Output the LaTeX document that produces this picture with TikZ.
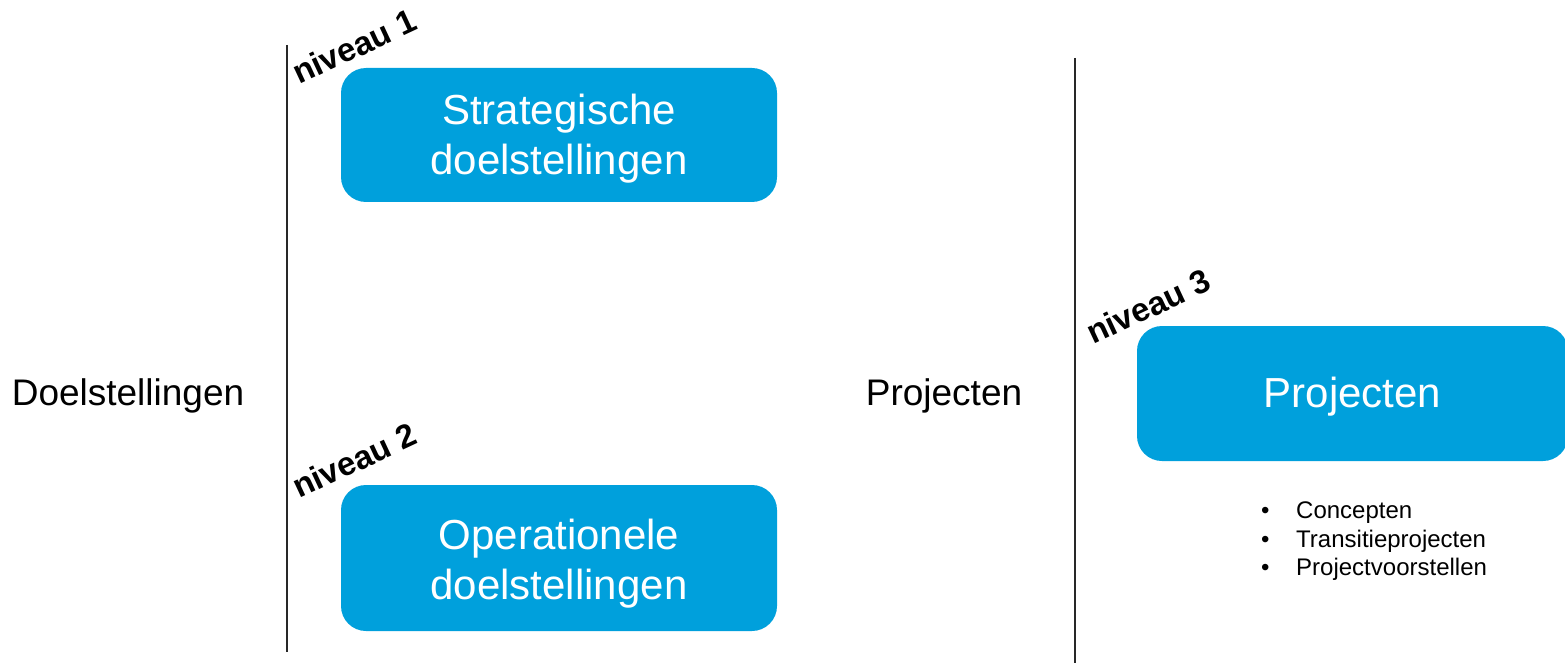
\documentclass[tikz,border=0pt]{standalone}
\usepackage{fontspec}
\setmainfont{Liberation Sans}
\definecolor{boxblue}{RGB}{0,160,220}
\definecolor{rulegray}{RGB}{40,40,40}
\newcommand{\twoline}[3]{\raisebox{-#1}[\height][\depth]{\begin{tabular}{@{}c@{}}#2\\#3\end{tabular}}}
\begin{document}
\begin{tikzpicture}[x=1pt,y=-1pt,
  box/.style={fill=boxblue, draw=none, rounded corners=25pt, text=white, align=center,
    font=\fontsize{42}{50}\selectfont, inner sep=0pt},
  lvl/.style={anchor=base west, inner sep=0pt, rotate=25, font=\fontsize{33}{38}\selectfont\bfseries},
  side/.style={anchor=base, inner sep=0pt, font=\fontsize{37}{44}\selectfont},
  bul/.style={anchor=base west, inner sep=0pt, font=\fontsize{24}{28}\selectfont},
  vline/.style={draw=rulegray, line width=2.5pt}]
\useasboundingbox (0,0) rectangle (1565,663);
\clip (0,0) rectangle (1565,663);
% vertical rules
\coordinate (l1t) at (287,45);
\coordinate (l1b) at (287,652);
\coordinate (l2t) at (1075,58);
\coordinate (l2b) at (1075,663);
\draw[vline] (l1t) -- (l1b);
\draw[vline] (l2t) -- (l2b);
% side labels
\node[side] (doel) at (128,405) {Doelstellingen};
\node[side] (proj) at (944,405) {Projecten};
% boxes
\node[box, minimum width=436pt, minimum height=134pt] (strat) at (559,135) {\twoline{5pt}{Strategische}{doelstellingen}};
\node[box, minimum width=436pt, minimum height=146pt] (oper) at (559,558) {\twoline{6pt}{Operationele}{doelstellingen}};
\node[box, minimum width=431pt, minimum height=135pt] (projbox) at (1352.5,393.5) {\raisebox{-3pt}[\height][\depth]{Projecten}};
% level labels
\node[lvl] (n1) at (299,85) {niveau 1};
\node[lvl] (n2) at (299,499) {niveau 2};
\node[lvl] (n3) at (1093,345) {niveau 3};
% bullet list
\node[bul] (b1) at (1261,518) {\textbullet};
\node[bul] (b2) at (1261,547) {\textbullet};
\node[bul] (b3) at (1261,575) {\textbullet};
\node[bul] (t1) at (1296,518) {Concepten};
\node[bul] (t2) at (1296,547) {Transitieprojecten};
\node[bul] (t3) at (1296,575) {Projectvoorstellen};
\end{tikzpicture}
\end{document}
